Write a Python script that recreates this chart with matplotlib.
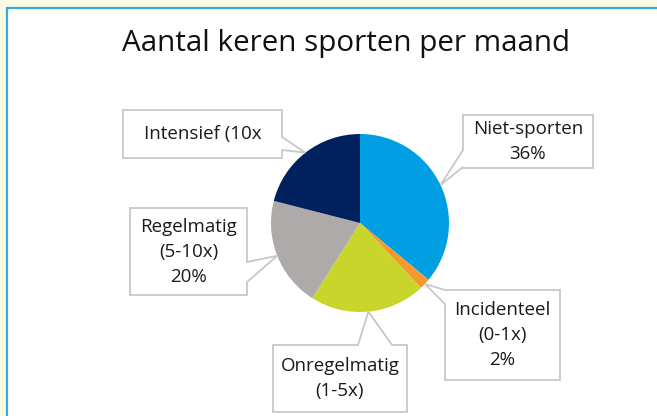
import numpy as np
import matplotlib
matplotlib.use("Agg")
import matplotlib.pyplot as plt
from matplotlib.patches import Rectangle, Polygon

# ---- data ----
categories = ["Niet-sporten", "Incidenteel\n(0-1x)", "Onregelmatig\n(1-5x)",
              "Regelmatig\n(5-10x)", "Intensief (10x"]
values = [36, 2, 21, 20, 21]
show_pct = [True, True, False, True, False]
colors = ["#009FE3", "#F39A2F", "#C8D52B", "#AEAAA9", "#00215E"]
title = "Aantal keren sporten per maand"

# ---- layout (pixel coords, y measured from top) ----
W, H = 657, 416
cx, cy, R = 360, 223, 89
# box: (x0, y0, x1, y1), tail side, tail base (a, b)
boxes = [
    ((463, 115, 593, 168), "left", (150, 167)),
    ((445, 290, 560, 380), "left", (290, 304)),
    ((273, 345, 407, 412), "top", (358, 392)),
    ((130, 208, 247, 295), "right", (262, 282)),
    ((123, 110, 282, 158), "right", (137, 150)),
]

plt.rcParams['font.family'] = ['Open Sans', 'DejaVu Sans']
fig = plt.figure(figsize=(W / 100, H / 100), dpi=100)
fig.patch.set_facecolor("#FAF9E2")
ax = fig.add_axes([0, 0, 1, 1])
ax.set_xlim(0, W)
ax.set_ylim(0, H)
ax.set_aspect("equal")
ax.axis("off")

def Y(y):
    return H - y

# white panel with blue border
ax.add_patch(Rectangle((7, -10), W + 20, Y(8) + 10, facecolor="white",
                       edgecolor="#35AADF", linewidth=1.6, zorder=0))

wedges, _ = ax.pie(values, colors=colors, startangle=90, counterclock=False,
                   center=(cx, Y(cy)), radius=R, frame=True,
                   wedgeprops=dict(linewidth=0))
ax.set_xlim(0, W)
ax.set_ylim(0, H)
ax.axis("off")

total = sum(values)
cum = np.cumsum([0] + values)
for i, (cat, v) in enumerate(zip(categories, values)):
    mid = (cum[i] + v / 2) / total * 360.0
    th = np.deg2rad(90 - mid)
    tip = (cx + R * np.cos(th), Y(cy) + R * np.sin(th))
    (x0, y0, x1, y1), side, (a, b) = boxes[i]
    if side == "left":
        raw = [(x0, y0), (x1, y0), (x1, y1), (x0, y1), (x0, b), None, (x0, a)]
    elif side == "right":
        raw = [(x0, y0), (x1, y0), (x1, a), None, (x1, b), (x1, y1), (x0, y1)]
    else:  # top
        raw = [(x0, y0), (a, y0), None, (b, y0), (x1, y0), (x1, y1), (x0, y1)]
    pts = [tip if p is None else (p[0], Y(p[1])) for p in raw]
    ax.add_patch(Polygon(pts, closed=True, facecolor="white",
                         edgecolor="#C8C8C8", linewidth=1.3, zorder=3))
    label = cat + (f"\n{v}%" if show_pct[i] else "")
    ax.text((x0 + x1) / 2, Y((y0 + y1) / 2), label, ha="center", va="center",
            fontsize=13.5, color="#1a1a1a", linespacing=1.5, zorder=4)

ax.text(346, Y(43), title, ha="center", va="center", fontsize=21.3,
        color="#111111", zorder=4)

fig.savefig("out.png", dpi=100, facecolor=fig.get_facecolor())
